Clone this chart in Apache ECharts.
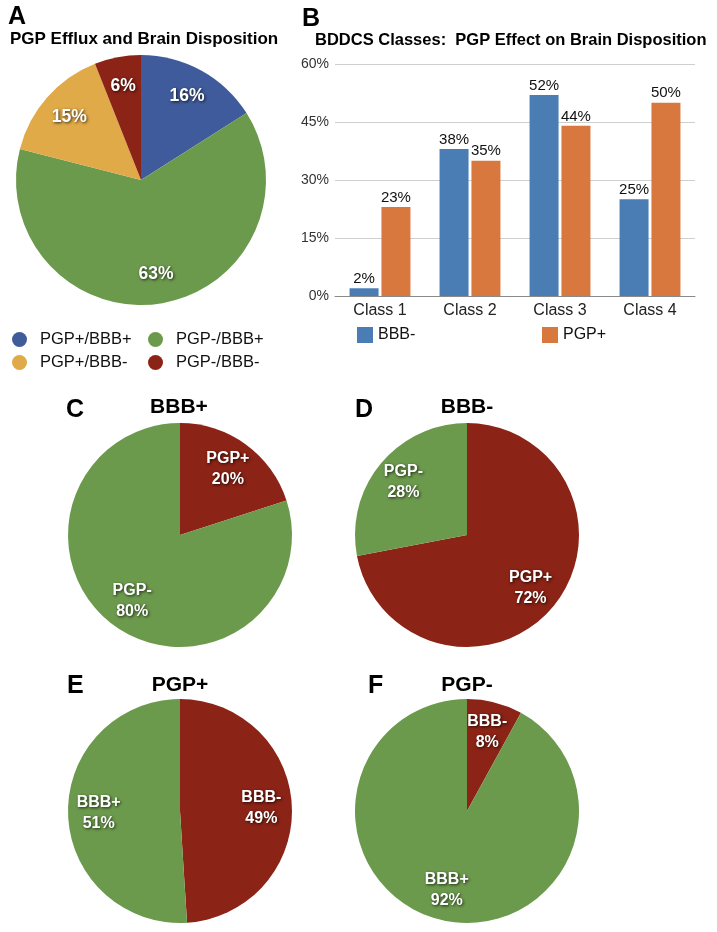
<!DOCTYPE html>
<html>
<head>
<meta charset="utf-8">
<script src="https://cdn.jsdelivr.net/npm/echarts@6/dist/echarts.min.js"></script>
<style>
html,body{margin:0;padding:0;background:#fff;}
#c{width:717px;height:932px;}
</style>
</head>
<body>
<div id="c"></div>
<script>
// ---- Data ----
var pieANames = ['PGP+/BBB+', 'PGP-/BBB+', 'PGP+/BBB-', 'PGP-/BBB-'];
var pieAValues = [16, 63, 15, 6];
var pieAColors = ['#3F5B9B', '#6C9A4D', '#E1AA48', '#8B2316'];

var barCategories = ['Class 1', 'Class 2', 'Class 3', 'Class 4'];
var barBBBminus = [2, 38, 52, 25];
var barPGPplus = [23, 35, 44, 50];
var barTicks = [0, 15, 30, 45, 60];

var pieCNames = ['PGP+', 'PGP-'];
var pieCValues = [20, 80];
var pieDNames = ['PGP+', 'PGP-'];
var pieDValues = [72, 28];
var pieENames = ['BBB-', 'BBB+'];
var pieEValues = [49, 51];
var pieFNames = ['BBB-', 'BBB+'];
var pieFValues = [8, 92];

var RED = '#8B2316', GREEN = '#6C9A4D';
var BLUE_BAR = '#4A7DB4', ORANGE_BAR = '#D8783E';

function mk(names, values, colors) {
  return names.map(function (n, i) { return { name: n, value: values[i], itemStyle: { color: colors[i] } }; });
}
function mkClear(names, values) {
  return names.map(function (n, i) { return { name: n, value: values[i] }; });
}

var labelBase = {
  show: true, position: 'inside', color: '#fff', fontWeight: 'bold',
  fontFamily: 'Liberation Sans, Arial, sans-serif',
  textShadowColor: 'rgba(0,0,0,0.75)', textShadowBlur: 3, textShadowOffsetX: 1, textShadowOffsetY: 1
};

function piePair(cx, cy, R, r0frac, names, values, colors, fmt, fontSize, lh) {
  return [
    {
      type: 'pie', center: [cx, cy], radius: [0, R], startAngle: 90, clockwise: true,
      data: mk(names, values, colors), label: { show: false }, labelLine: { show: false },
      silent: true, emphasis: { disabled: true }, animation: false
    },
    {
      type: 'pie', center: [cx, cy], radius: [R * r0frac, R], startAngle: 90, clockwise: true,
      data: mkClear(names, values),
      itemStyle: { color: 'rgba(0,0,0,0)' },
      label: Object.assign({}, labelBase, { formatter: fmt, fontSize: fontSize, lineHeight: lh }),
      labelLine: { show: false }, silent: true, emphasis: { disabled: true }, animation: false
    }
  ];
}

var series = [
  {
    name: 'BBB-', type: 'bar', xAxisIndex: 0, yAxisIndex: 0, data: barBBBminus,
    itemStyle: { color: BLUE_BAR }, barWidth: 29, barGap: '10%',
    label: { show: true, position: 'top', distance: 2, formatter: '{c}%', color: '#111', fontSize: 15, fontFamily: 'Liberation Sans, Arial, sans-serif' },
    animation: false
  },
  {
    name: 'PGP+', type: 'bar', xAxisIndex: 0, yAxisIndex: 0, data: barPGPplus,
    itemStyle: { color: ORANGE_BAR }, barWidth: 29, barGap: '10%',
    label: { show: true, position: 'top', distance: 2, formatter: '{c}%', color: '#111', fontSize: 15, fontFamily: 'Liberation Sans, Arial, sans-serif' },
    animation: false
  }
];
series = series
  .concat(piePair(141, 180, 125, 0.48, pieANames, pieAValues, pieAColors, '{c}%', 17.5, 20))
  .concat(piePair(180, 535, 112, 0.40, pieCNames, pieCValues, [RED, GREEN], '{b}\n{c}%', 16, 21))
  .concat(piePair(467, 535, 112, 0.42, pieDNames, pieDValues, [RED, GREEN], '{b}\n{c}%', 16, 21))
  .concat(piePair(180, 811, 112, 0.40, pieENames, pieEValues, [RED, GREEN], '{b}\n{c}%', 16, 21))
  .concat(piePair(467, 811, 112, 0.40, pieFNames, pieFValues, [RED, GREEN], '{b}\n{c}%', 16, 21));

function txt(t, x, y, size, align) {
  return {
    type: 'text', x: x, y: y, silent: true,
    style: { text: t, fill: '#000', font: 'bold ' + size + 'px "Liberation Sans", Arial, sans-serif', textAlign: align || 'left', textVerticalAlign: 'middle' }
  };
}

var FONT = 'Liberation Sans, Arial, sans-serif';
var option = {
  backgroundColor: '#fff',
  animation: false,
  grid: [{ left: 335, right: 22, top: 64, bottom: 636 }],
  xAxis: [{
    type: 'category', data: barCategories, gridIndex: 0,
    axisTick: { show: false },
    axisLine: { lineStyle: { color: '#8a8a8a', width: 1 } },
    axisLabel: { color: '#222', fontSize: 16, margin: 7, fontFamily: FONT }
  }],
  yAxis: [{
    type: 'value', gridIndex: 0, min: barTicks[0], max: barTicks[barTicks.length - 1], interval: 15,
    axisLine: { show: false }, axisTick: { show: false },
    splitLine: { lineStyle: { color: '#cfcfcf', width: 1 } },
    axisLabel: { formatter: '{value}%', color: '#333', fontSize: 14, margin: 6, fontFamily: FONT }
  }],
  legend: [
    { orient: 'vertical', left: 12, top: 331, padding: 0, itemWidth: 15, itemHeight: 15, itemGap: 6, icon: 'circle',
      data: [pieANames[0], pieANames[2]], selectedMode: false,
      textStyle: { fontSize: 16.5, color: '#111', fontFamily: FONT, padding: [0, 0, 0, 8] } },
    { orient: 'vertical', left: 148, top: 331, padding: 0, itemWidth: 15, itemHeight: 15, itemGap: 6, icon: 'circle',
      data: [pieANames[1], pieANames[3]], selectedMode: false,
      textStyle: { fontSize: 16.5, color: '#111', fontFamily: FONT, padding: [0, 0, 0, 8] } },
    { left: 357, top: 327, padding: 0, itemWidth: 16, itemHeight: 16, icon: 'rect', data: ['BBB-'], selectedMode: false,
      textStyle: { fontSize: 16, color: '#111', fontFamily: FONT } },
    { left: 542, top: 327, padding: 0, itemWidth: 16, itemHeight: 16, icon: 'rect', data: ['PGP+'], selectedMode: false,
      textStyle: { fontSize: 16, color: '#111', fontFamily: FONT } }
  ],
  graphic: [
    txt('A', 8, 17, 25),
    txt('PGP Efflux and Brain Disposition', 10, 39, 17),
    txt('B', 302, 19, 25),
    txt('BDDCS Classes:  PGP Effect on Brain Disposition', 315, 40, 16.5),
    txt('C', 66, 410, 25),
    txt('BBB+', 179, 407, 21, 'center'),
    txt('D', 355, 410, 25),
    txt('BBB-', 467, 407, 21, 'center'),
    txt('E', 67, 686, 25),
    txt('PGP+', 180, 685, 21, 'center'),
    txt('F', 368, 686, 25),
    txt('PGP-', 467, 685, 21, 'center')
  ],
  series: series
};

var chart = echarts.init(document.getElementById('c'), null, { renderer: 'canvas' });
chart.setOption(option);
</script>
</body>
</html>
